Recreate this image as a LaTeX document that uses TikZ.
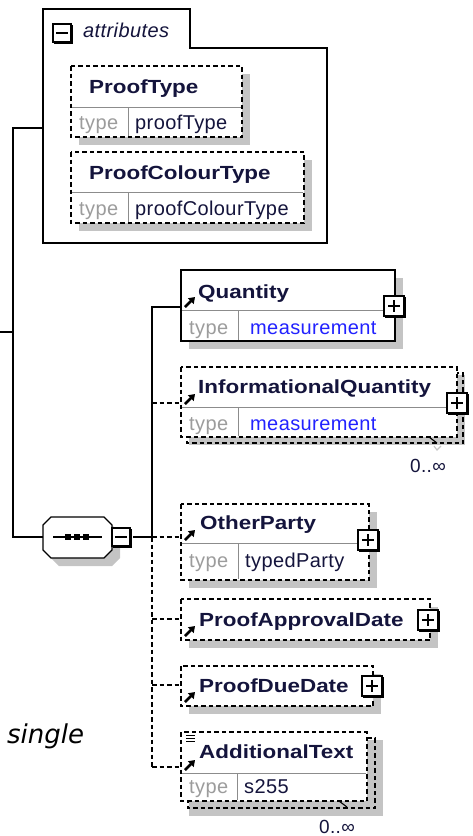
\documentclass[tikz,border=0pt]{standalone}
\usepackage{fontspec}
\setmainfont{Liberation Sans}
\newfontfamily\namefont{Liberation Sans}[FakeStretch=1.18]
\newfontfamily\rowfont{Liberation Sans}[LetterSpace=2]
\newfontfamily\notefont{DejaVu Sans}
\usetikzlibrary{arrows.meta}
\definecolor{xsname}{HTML}{14143C}
\definecolor{xstype}{HTML}{9C9C9C}
\definecolor{xsblue}{HTML}{2222FF}
\definecolor{xsshade}{HTML}{C4C4C4}
\definecolor{xsrule}{HTML}{8C8C8C}

\begin{document}
\begin{tikzpicture}[x=1pt, y=-1pt,
  box/.style={draw, line width=1.3pt, fill=white},
  optbox/.style={box, dash pattern=on 4.5pt off 3pt},
  backbox/.style={draw, line width=1.3pt, dash pattern=on 4.5pt off 3pt},
  shade/.style={fill=xsshade},
  rule/.style={draw=xsrule, line width=1pt},
  conn/.style={line width=1.3pt},
  optconn/.style={conn, dash pattern=on 4.5pt off 3pt},
  ename/.style={anchor=base west, inner sep=0pt, text=xsname, font=\namefont\bfseries\fontsize{19}{20}\selectfont},
  tlabel/.style={anchor=base west, inner sep=0pt, text=xstype, font=\rowfont\fontsize{20}{22}\selectfont},
  tval/.style={tlabel, text=xsname},
  tref/.style={tlabel, text=xsblue},
  occurs/.style={anchor=base, inner sep=0pt, text=xsname, font=\rowfont\fontsize{19}{20}\selectfont},
  refmark/.style={line width=2.6pt, -{Triangle[length=6pt, width=8pt]}}
]
\useasboundingbox (0,0) rectangle (473,836);

% --- attributes group ---
\draw[conn] (43,9) -- (190,9) -- (190,48) -- (327,48) -- (327,243) -- (43,243) -- cycle;
\node[anchor=base west, inner sep=0pt, text=xsname, font=\rowfont\itshape\fontsize{20}{22}\selectfont] (attrlbl) at (83,37) {attributes};

\fill[shade] (79,74) rectangle (250,145);
\draw[optbox] (71,66) rectangle (242,137);
\draw[rule] (72,107) -- (241,107) (128,107) -- (128,136);
\node[ename] (ptype) at (89,93) {ProofType};
\node[tlabel] (ptype-t) at (79,129) {type};
\node[tval] (ptype-v) at (135,129) {proofType};

\fill[shade] (79,160) rectangle (312,231);
\draw[optbox] (71,152) rectangle (304,223);
\draw[rule] (72,192) -- (303,192) (128,192) -- (128,222);
\node[ename] (pcol) at (89,179) {ProofColourType};
\node[tlabel] (pcol-t) at (79,215) {type};
\node[tval] (pcol-v) at (135,215) {proofColourType};

% --- sequence compositor ---
\fill[shade] (59,525) -- (112,525) -- (120,533) -- (120,558) -- (112,566) -- (59,566) -- (51,558) -- (51,533) -- cycle;
\draw[box] (51,517) -- (104,517) -- (112,525) -- (112,550) -- (104,558) -- (51,558) -- (43,550) -- (43,525) -- cycle;
\draw[line width=1.2pt] (53,537) -- (102,537);
\foreach \x in {68,77,86} \fill (\x-3,534) rectangle (\x+3,540);

% --- child elements ---
\fill[shade] (189,278) rectangle (403,349);
\draw[box] (181,270) rectangle (395,341);
\draw[rule] (182,310) -- (394,310) (238,310) -- (238,340);
\node[ename] (qty) at (198,298) {Quantity};
\node[tlabel] (qty-t) at (189,334) {type};
\node[tref] (qty-v) at (250,334) {measurement};

\fill[shade] (189,375) rectangle (465,445);
\draw[backbox] (187,373) rectangle (463,443);
\draw[optbox] (181,367) rectangle (457,437);
\draw[rule] (182,407) -- (456,407) (238,407) -- (238,436);
\node[ename] (infq) at (198,393) {InformationalQuantity};
\node[tlabel] (infq-t) at (189,430) {type};
\node[tref] (infq-v) at (250,430) {measurement};
\draw[line width=1.1pt] (429,437) -- (437,443);
\draw[xsshade, line width=1.1pt] (434,446) -- (437,450) -- (441,446);
\node[occurs] (infq-occ) at (428,472) {0..∞};

\fill[shade] (189,512) rectangle (377,588);
\draw[optbox] (181,504) rectangle (369,580);
\draw[rule] (182,543) -- (368,543) (238,543) -- (238,579);
\node[ename] (othp) at (200,529) {OtherParty};
\node[tlabel] (othp-t) at (189,567) {type};
\node[tval] (othp-v) at (245,567) {typedParty};

\fill[shade] (189,607) rectangle (438,648);
\draw[optbox] (181,599) rectangle (430,640);
\node[ename] (pad) at (199,626) {ProofApprovalDate};

\fill[shade] (189,674) rectangle (381,714);
\draw[optbox] (181,666) rectangle (373,706);
\node[ename] (pdd) at (199,692) {ProofDueDate};

\fill[shade] (189,740) rectangle (383,816);
\draw[backbox] (188,738) rectangle (375,808);
\draw[optbox] (181,732) rectangle (367,801);
\draw[rule] (182,773) -- (366,773) (237,773) -- (237,800);
\node[ename] (addt) at (199,758) {AdditionalText};
\node[tlabel] (addt-t) at (189,793) {type};
\node[tval] (addt-v) at (244,793) {s255};
\foreach \y in {735,738,741} \draw[line width=0.9pt] (186,\y) -- (195,\y);
\draw[line width=1.1pt] (339,801) -- (347,807);
\draw[xsshade, line width=1.1pt] (344,810) -- (347,814) -- (351,810);
\node[occurs] (addt-occ) at (337,833) {0..∞};

% reference arrows
\foreach \y in {307,404,540,636,702,770} \draw[refmark] (185,\y) -- (195,\y-10);

% expand / collapse buttons
\foreach \x/\y in {394/306, 457/403, 368/540, 428/620, 372/686} {
  \draw[line width=1.1pt, fill=white] (\x-10,\y-10) rectangle (\x+10,\y+10);
  \draw[line width=2.4pt] (\x+11,\y-9) -- (\x+11,\y+11) -- (\x-9,\y+11);
  \draw[line width=1.3pt] (\x-6,\y) -- (\x+6,\y) (\x,\y-6) -- (\x,\y+6);
}
\foreach \x/\y in {62/33, 121/537} {
  \draw[line width=1.1pt, fill=white] (\x-9,\y-9) rectangle (\x+9,\y+9);
  \draw[line width=2.4pt] (\x+10,\y-8) -- (\x+10,\y+10) -- (\x-8,\y+10);
  \draw[line width=1.3pt] (\x-6,\y) -- (\x+6,\y);
}

% --- connectors ---
\coordinate (stub) at (0,332);
\coordinate (trunk-mid) at (13,332);
\coordinate (trunk-top) at (13,128);
\coordinate (trunk-bot) at (13,537);
\coordinate (attr-in) at (43,128);
\coordinate (seq-in) at (43,537);
\coordinate (seq-out) at (133,537);
\foreach \n/\y in {qty/307, infq/403, othp/537, pad/619, pdd/685, addt/767} {
  \coordinate (bus-\n) at (152,\y);
  \coordinate (\n-in) at (181,\y);
}
\draw[conn] (stub) -- (trunk-mid);
\draw[conn] (attr-in) -- (trunk-top) -- (trunk-bot) -- (seq-in);
\draw[conn] (seq-out) -- (bus-othp);
\draw[conn] (bus-othp) -- (bus-qty) -- (qty-in);
\draw[optconn] (bus-othp) -- (bus-addt);
\foreach \n in {infq, othp, pad, pdd, addt} \draw[optconn] (bus-\n) -- (\n-in);

\node[anchor=base west, inner sep=0pt, font=\notefont\itshape\fontsize{26}{28}\selectfont] (note) at (7,743) {single};
\end{tikzpicture}
\end{document}
